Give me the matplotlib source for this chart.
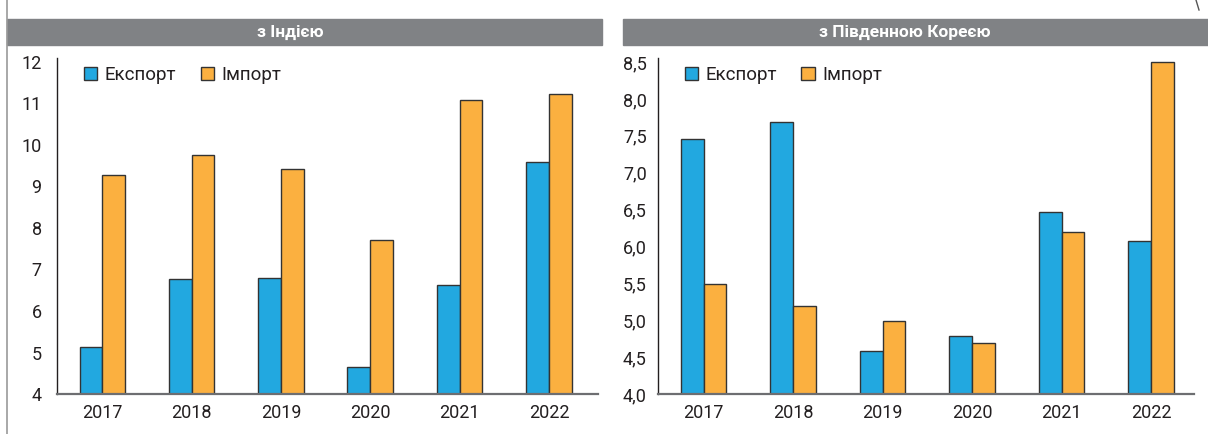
import numpy as np
from matplotlib import pyplot as plt
from matplotlib.patches import Rectangle

plt.rcParams['font.family'] = ['Roboto', 'DejaVu Sans']

years = ["2017", "2018", "2019", "2020", "2021", "2022"]

# з Індією
india_export = [5.13, 6.77, 6.80, 4.66, 6.63, 9.60]
india_import = [9.28, 9.75, 9.42, 7.70, 11.08, 11.23]
india_ticks = [4, 5, 6, 7, 8, 9, 10, 11, 12]
india_ticklabels = ["4", "5", "6", "7", "8", "9", "10", "11", "12"]

# з Південною Кореєю
korea_export = [7.46, 7.68, 4.58, 4.78, 6.47, 6.07]
korea_import = [5.49, 5.19, 4.99, 4.69, 6.19, 8.50]
korea_ticks = [4.0, 4.5, 5.0, 5.5, 6.0, 6.5, 7.0, 7.5, 8.0, 8.5]
korea_ticklabels = ["4,0", "4,5", "5,0", "5,5", "6,0", "6,5", "7,0", "7,5", "8,0", "8,5"]

titles = ["з Індією", "з Південною Кореєю"]
legend_labels = ["Експорт", "Імпорт"]

blue = "#22a8e0"
orange = "#fbb040"
gray = "#808285"

W, H = 1208, 434
fig = plt.figure(figsize=(W / 100, H / 100), dpi=100)

# рамка слева
fig.add_artist(plt.Line2D([7 / W, 7 / W], [0, 1], color="#9a9a9a", lw=1.2))
fig.add_artist(plt.Line2D([1196 / W, 1199 / W], [1 - 0 / H, 1 - 10 / H], color="#555555", lw=1))

# серые заголовки
for (x0, x1, tx), title in zip([(7, 602, 290), (623, 1208, 905)], titles):
    fig.add_artist(Rectangle((x0 / W, 1 - 45 / H), (x1 - x0) / W, 26 / H,
                             color=gray, transform=fig.transFigure))
    fig.text(tx / W, 1 - 32 / H, title, color="white", fontsize=12.5,
             fontweight="bold", ha="center", va="center")

bottom_px, top_px = 394, 58
panels = [
    (57, 598, -0.507, 5.55, 12 + 4 / 41.5, india_export, india_import, india_ticks, india_ticklabels, 11),
    (658, 1194, -0.51, 5.48, 8.5 + 4 / 74.0, korea_export, korea_import, korea_ticks, korea_ticklabels, 8),
]

x = np.arange(len(years))
w = 0.255
for (l, r, xmin, xmax, ytop, exp, imp, ticks, labels, ypad) in panels:
    ax = fig.add_axes([l / W, 1 - bottom_px / H, (r - l) / W, (bottom_px - top_px) / H])
    ax.bar(x - w / 2, exp, w, color=blue, edgecolor="#333333", linewidth=1, label=legend_labels[0])
    ax.bar(x + w / 2, imp, w, color=orange, edgecolor="#333333", linewidth=1, label=legend_labels[1])
    ax.set_xlim(xmin, xmax)
    ax.set_ylim(ticks[0], ytop)
    ax.set_xticks(x)
    ax.set_xticklabels(years)
    ax.set_yticks(ticks)
    ax.set_yticklabels(labels)
    ax.tick_params(axis="both", length=0, labelsize=13, colors="#231f20")
    ax.tick_params(axis="y", pad=ypad)
    ax.tick_params(axis="x", pad=7)
    for s in ["top", "right"]:
        ax.spines[s].set_visible(False)
    ax.spines["left"].set_color("#231f20")
    ax.spines["left"].set_linewidth(1)
    ax.spines["bottom"].set_color("#6d6e71")
    ax.spines["bottom"].set_linewidth(1.6)
    ax.legend(loc="upper left", bbox_to_anchor=(27 / (r - l), 1 - 8 / (bottom_px - top_px)),
              ncol=2, frameon=False, fontsize=13.5, handlelength=0.7, handleheight=0.7,
              handletextpad=0.4, columnspacing=1.3, borderpad=0, borderaxespad=0,
              labelcolor="#231f20")

plt.savefig("out.png", dpi=100)
